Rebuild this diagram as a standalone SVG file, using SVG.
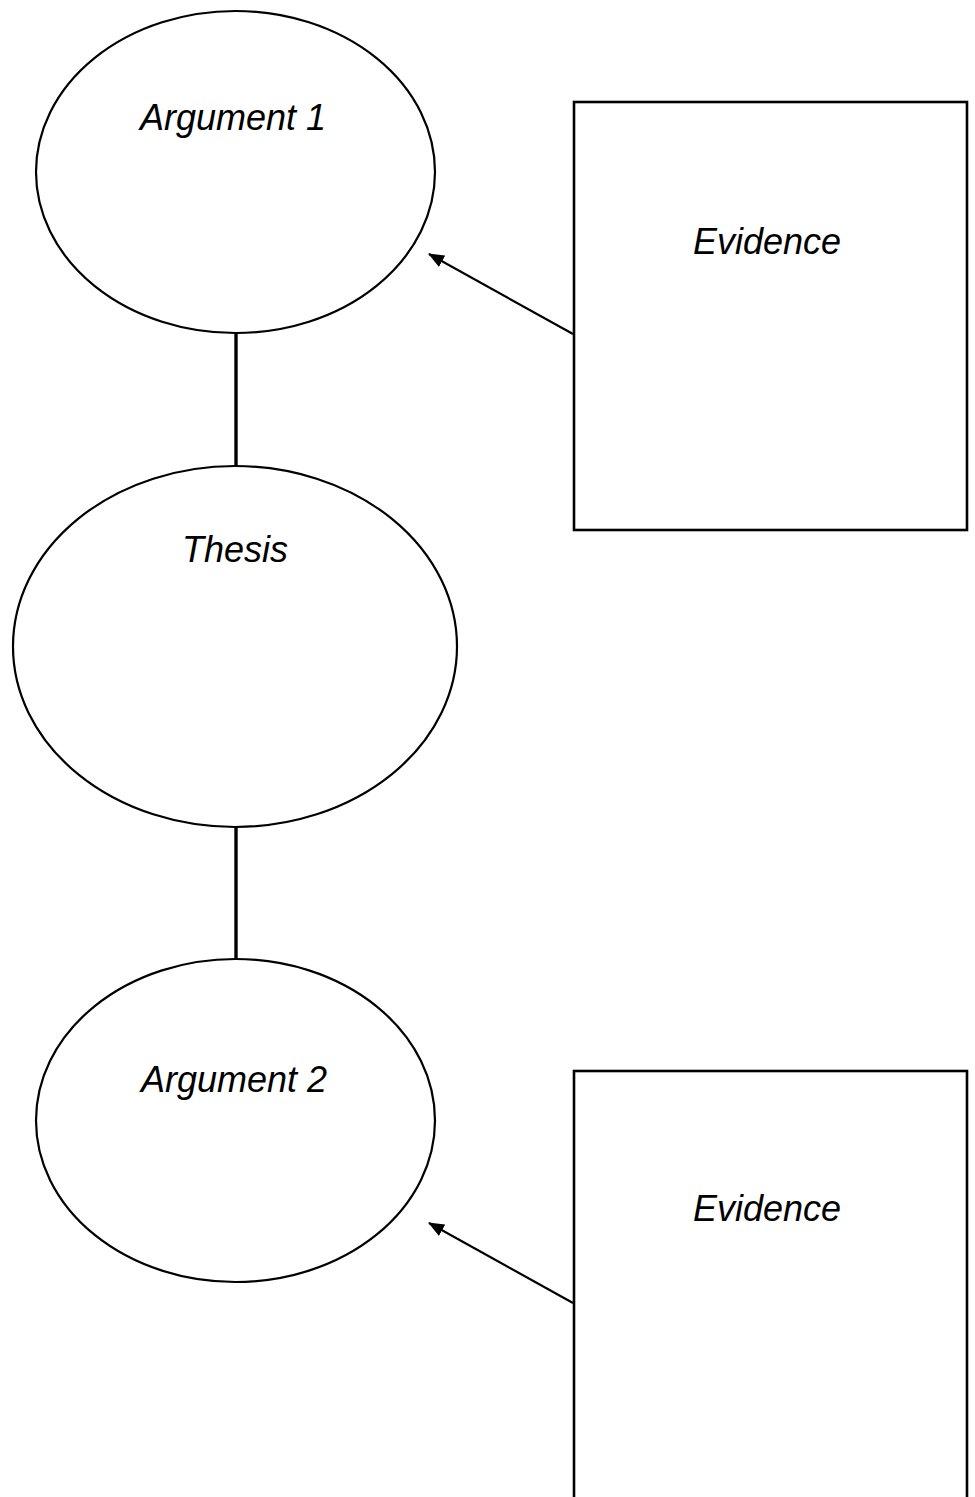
<svg xmlns="http://www.w3.org/2000/svg" width="975" height="1497" viewBox="0 0 975 1497">
  <style>
    .shape { fill: #ffffff; stroke: #000000; stroke-width: 2.2; }
    .box { fill: #ffffff; stroke: #000000; stroke-width: 2.6; }
    .label { font-family: "Liberation Sans", Arial, sans-serif; font-style: italic; font-size: 36px; fill: #000000; text-anchor: middle; }
    .link { stroke: #000000; stroke-width: 3.4; fill: none; }
    .arrow { stroke: #000000; stroke-width: 2.2; fill: none; marker-end: url(#head); }
  </style>
  <defs>
    <marker id="head" markerWidth="16" markerHeight="13" refX="15" refY="6.5" orient="auto" markerUnits="userSpaceOnUse">
      <path d="M0,0 L16,6.5 L0,13 Z" fill="#000000"/>
    </marker>
  </defs>
  <rect width="975" height="1497" fill="#ffffff"/>
  <g id="connectors">
    <line class="link" x1="236" y1="333" x2="236" y2="466"/>
    <line class="link" x1="236" y1="827" x2="236" y2="959"/>
    <line class="arrow" x1="573" y1="334" x2="429" y2="254"/>
    <line class="arrow" x1="573" y1="1303" x2="429" y2="1223"/>
  </g>
  <g id="argument1">
    <ellipse class="shape" cx="235.5" cy="172" rx="199.5" ry="161"/>
    <text class="label" x="233" y="130">Argument 1</text>
  </g>
  <g id="thesis">
    <ellipse class="shape" cx="235" cy="646.5" rx="222" ry="180.5"/>
    <text class="label" x="235" y="562">Thesis</text>
  </g>
  <g id="argument2">
    <ellipse class="shape" cx="235.5" cy="1120.5" rx="199.5" ry="161.5"/>
    <text class="label" x="234" y="1092">Argument 2</text>
  </g>
  <g id="evidence1">
    <rect class="box" x="574" y="102" width="393" height="428"/>
    <text class="label" x="767" y="254">Evidence</text>
  </g>
  <g id="evidence2">
    <rect class="box" x="574" y="1071" width="393" height="440"/>
    <text class="label" x="767" y="1221">Evidence</text>
  </g>
</svg>
